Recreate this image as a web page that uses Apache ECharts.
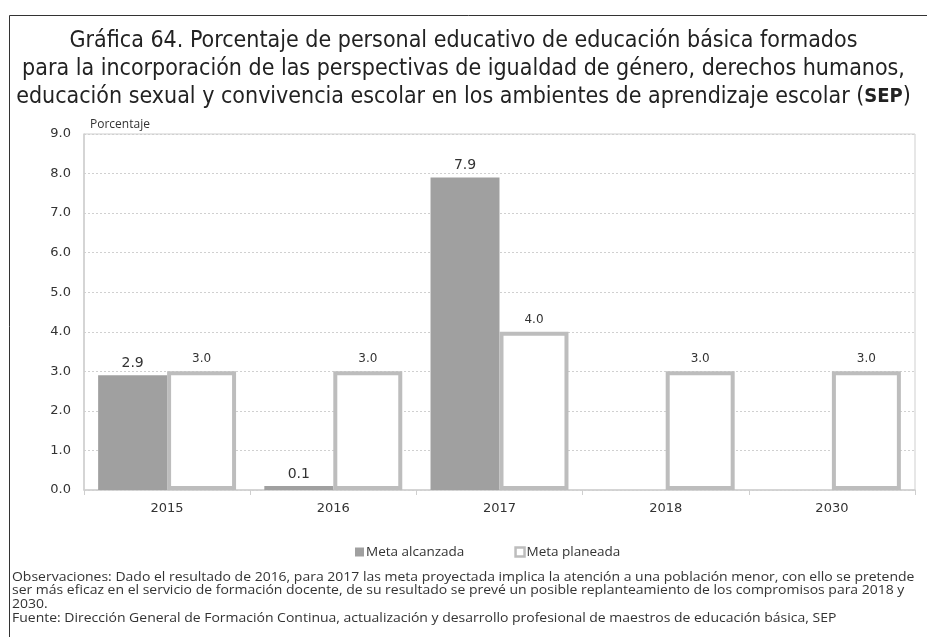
<!DOCTYPE html>
<html>
<head>
<meta charset="utf-8">
<script src="https://cdn.jsdelivr.net/npm/echarts@6/dist/echarts.min.js"></script>
<style>
  html, body { margin: 0; padding: 0; background: #fff; }
  #chart { width: 927px; height: 637px; }
</style>
</head>
<body>
<div id="chart"></div>
<script>
// Years shown on the category axis
const categories = ['2015', '2016', '2017', '2018', '2030'];
// Goal reached (null = no data yet)
const metaAlcanzada = [2.9, 0.1, 7.9, null, null];
// Planned goal
const metaPlaneada = [3.0, 3.0, 4.0, 3.0, 3.0];
// Y axis bounds
const yMin = 0, yMax = 9, yStep = 1;

const titleLines = [
  'Gráfica 64. Porcentaje de personal educativo de educación básica formados',
  'para la incorporación de las perspectivas de igualdad de género, derechos humanos,',
  'educación sexual y convivencia escolar en los ambientes de aprendizaje escolar ({b|SEP})'
];
const notes = [
  'Observaciones: Dado el resultado de 2016, para 2017 las meta proyectada implica la atención a una población menor, con ello se pretende',
  'ser más eficaz en el servicio de formación docente, de su resultado se prevé un posible replanteamiento de los compromisos para 2018 y',
  '2030.',
  'Fuente: Dirección General de Formación Continua, actualización y desarrollo profesional de maestros de educación básica, SEP'
];

const titleFont = '"DejaVu Sans Condensed", "DejaVu Sans", sans-serif';
const bodyFont = '"Open Sans", Lato, sans-serif';
const axisFont = '"DejaVu Sans", sans-serif';

const chart = echarts.init(document.getElementById('chart'), null, { renderer: 'canvas' });

chart.setOption({
  backgroundColor: '#fff',
  animation: false,
  title: {
    text: titleLines.join('\n'),
    left: 'center',
    top: 22,
    textStyle: {
      fontFamily: titleFont,
      fontSize: 23,
      fontWeight: 'normal',
      color: '#222',
      lineHeight: 28,
      rich: {
        b: { fontFamily: titleFont, fontSize: 20, fontWeight: 'bold', color: '#222' }
      }
    }
  },
  legend: {
    top: 540,
    left: 350,
    itemGap: 50,
    itemWidth: 9,
    itemHeight: 9,
    icon: 'rect',
    textStyle: { fontFamily: bodyFont, fontSize: 13.5, color: '#333', padding: [0, 0, 0, -3] },
    data: [
      { name: 'Meta alcanzada', itemStyle: { color: '#a0a0a0', borderWidth: 0 } },
      { name: 'Meta planeada', itemStyle: { color: '#fff', borderColor: '#bdbdbd', borderWidth: 2.5 } }
    ]
  },
  grid: {
    left: 84, right: 12, top: 134, bottom: 147,
    show: true, borderColor: '#cfcfcf', borderWidth: 1, backgroundColor: 'transparent'
  },
  xAxis: {
    type: 'category',
    data: categories,
    axisLine: { lineStyle: { color: '#cfcfcf', width: 1.5 } },
    axisTick: { show: true, length: 5, lineStyle: { color: '#cfcfcf' } },
    axisLabel: { fontFamily: axisFont, fontSize: 13, color: '#333', margin: 12 }
  },
  yAxis: {
    type: 'value',
    min: yMin, max: yMax, interval: yStep,
    name: 'Porcentaje',
    nameLocation: 'end',
    nameGap: 3,
    nameTextStyle: { fontFamily: bodyFont, fontSize: 12, color: '#333', align: 'left', padding: [0, 0, 0, 6] },
    axisLine: { show: true, lineStyle: { color: '#cfcfcf', width: 1.5 } },
    axisTick: { show: false },
    axisLabel: {
      fontFamily: axisFont, fontSize: 13, color: '#333', margin: 13,
      formatter: v => v.toFixed(1)
    },
    splitLine: { lineStyle: { color: '#d0d0d0', type: [2, 2], width: 1 } }
  },
  series: [
    {
      name: 'Meta alcanzada',
      type: 'bar',
      data: metaAlcanzada,
      barGap: '0%',
      barCategoryGap: '17%',
      itemStyle: { color: '#a0a0a0' },
      label: {
        show: true, position: 'top', distance: 5,
        fontFamily: axisFont, fontSize: 14, color: '#333',
        formatter: p => p.value.toFixed(1)
      }
    },
    {
      name: 'Meta planeada',
      type: 'bar',
      data: metaPlaneada,
      barGap: '0%',
      barCategoryGap: '17%',
      itemStyle: { color: '#fff', borderColor: '#bdbdbd', borderWidth: 4 },
      label: {
        show: true, position: 'top', distance: 6,
        fontFamily: axisFont, fontSize: 12, color: '#333',
        formatter: p => p.value.toFixed(1)
      }
    }
  ],
  graphic: [
    {
      type: 'polyline',
      silent: true,
      shape: { points: [[9.5, 637], [9.5, 15.5], [927, 15.5]] },
      style: { stroke: '#333', lineWidth: 1, fill: null }
    },
    // Notes are set slightly widened so each line spans the full box
    ...notes.map((t, i) => ({
      type: 'text',
      x: 12,
      y: 571 + i * 13.3 + (i === 3 ? 1.5 : 0),
      scaleX: 1.11,
      silent: true,
      style: { text: t, fontFamily: bodyFont, fontSize: 12.6, fill: '#333', textVerticalAlign: 'top' }
    }))
  ]
});
</script>
</body>
</html>
